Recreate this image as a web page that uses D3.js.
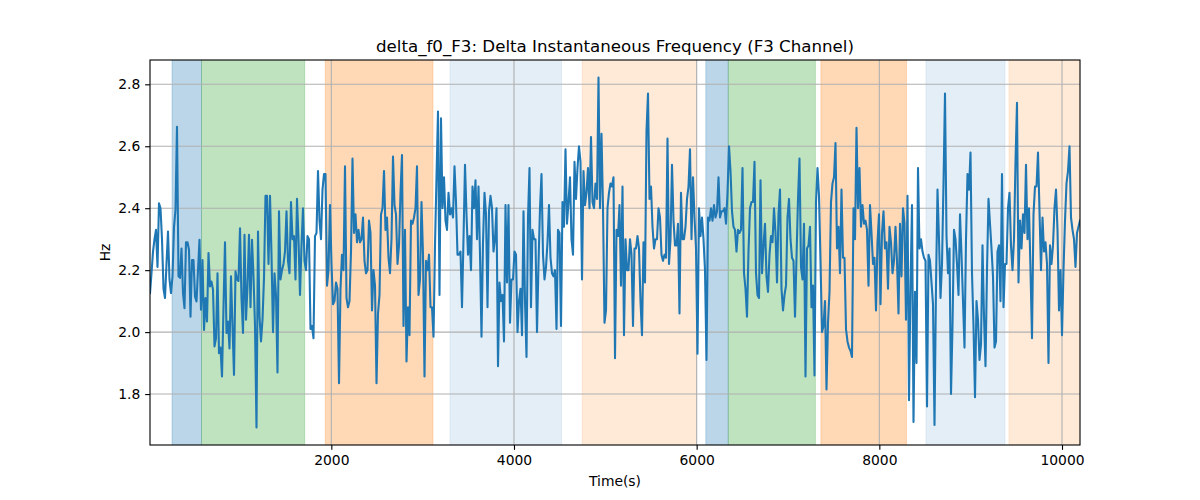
<!DOCTYPE html>
<html>
<head>
<meta charset="utf-8">
<script src="https://cdn.jsdelivr.net/npm/d3@7"></script>
<style>
  html, body { margin: 0; padding: 0; background: #ffffff; }
  svg { display: block; font-family: "DejaVu Sans", sans-serif; }
</style>
</head>
<body>
<svg id="chart" width="1200" height="500"></svg>
<script>
// ---------------- data ----------------
const chartTitle = "delta_f0_F3: Delta Instantaneous Frequency (F3 Channel)";
const xLabel = "Time(s)";
const yLabel = "Hz";
const xTicks = [2000, 4000, 6000, 8000, 10000];
const yTicks = [1.8, 2.0, 2.2, 2.4, 2.6, 2.8];
const timeStart = 15;
const timeEnd = 10197;

const values = [
  2.126,2.19,2.26,2.30,2.33,2.21,2.416,2.40,2.30,2.14,
  2.11,2.22,2.325,2.17,2.126,2.18,2.34,2.395,2.663,2.18,
  2.175,2.27,2.126,2.077,2.29,2.29,2.266,2.05,2.233,2.233,
  2.115,2.099,2.20,2.298,2.072,2.233,2.007,2.11,2.034,2.255,
  2.147,2.163,2.137,1.954,1.98,2.19,1.932,1.95,1.857,2.08,
  2.29,1.997,2.034,1.947,2.18,2.02,1.862,2.196,2.17,2.165,
  2.335,2.11,1.997,2.314,2.04,2.147,2.314,2.08,2.298,2.18,
  2.02,1.692,2.325,2.05,1.97,2.04,2.175,
  2.44,2.44,2.22,2.44,2.25,2.00,2.19,2.12,1.87,2.39,
  2.17,2.20,2.22,2.26,2.39,2.23,2.19,2.42,2.30,2.31,
  2.17,2.43,2.30,2.12,2.28,2.40,2.23,2.20,2.31,2.30,
  2.01,2.02,1.98,2.31,2.32,2.52,2.36,2.30,2.46,2.51,
  2.51,2.15,2.20,2.41,2.22,2.09,2.10,2.16,2.14,1.835,
  2.14,2.25,2.20,2.535,2.11,2.08,2.10,2.26,2.56,2.32,
  2.38,2.29,2.33,2.29,2.30,2.37,2.23,2.19,2.20,2.36,
  2.32,2.07,2.20,2.15,1.835,2.06,2.12,
  2.38,2.40,2.52,2.33,2.37,2.24,2.19,2.30,2.567,2.41,
  2.38,2.22,2.28,2.45,2.572,2.02,2.33,1.905,2.08,1.99,
  2.36,2.35,2.37,2.40,2.535,2.12,2.17,2.42,2.25,1.857,
  2.23,2.20,2.25,2.08,2.08,1.985,2.28,2.50,2.712,2.12,
  2.69,2.40,2.50,2.36,2.33,2.45,2.38,2.40,2.37,2.535,
  2.42,2.25,2.25,2.26,2.08,2.30,2.54,2.38,2.25,2.31,
  2.20,2.47,2.40,2.49,2.30,2.47,2.25,1.985,2.29,2.45,
  2.38,2.08,2.39,2.44,2.40,2.26,2.30,
  2.40,1.89,2.16,2.10,2.12,1.97,2.41,2.16,2.41,2.03,
  2.17,2.17,2.26,2.25,2.00,2.10,2.14,1.99,2.39,2.10,
  1.92,2.37,2.53,2.08,2.33,2.30,2.30,2.00,2.22,2.40,
  2.51,2.25,2.17,2.21,2.29,2.41,2.24,2.19,2.18,2.20,
  2.01,2.33,2.32,2.02,2.42,2.34,2.59,2.35,2.42,2.50,
  2.30,2.25,2.55,2.43,2.53,2.60,2.55,2.17,2.52,2.41,
  2.45,2.53,2.40,2.63,2.42,2.40,2.48,2.43,2.822,2.40,
  2.64,2.40,2.03,2.07,2.40,2.45,2.48,
  2.47,2.50,1.916,2.33,2.31,2.41,2.15,2.47,1.99,2.30,
  2.20,2.20,2.30,2.25,2.02,2.27,2.27,2.31,2.27,2.10,
  1.99,2.29,2.16,2.65,2.77,2.43,2.47,2.34,2.27,2.30,
  2.30,2.40,2.37,2.25,2.23,2.25,2.24,2.625,2.22,2.30,
  2.54,2.36,2.28,2.28,2.35,2.06,2.45,2.30,2.30,2.34,
  2.43,2.47,2.59,2.30,2.50,2.37,2.27,1.93,2.40,2.31,
  2.37,2.30,2.20,1.91,2.37,2.36,2.40,2.36,2.41,2.37,
  2.39,2.50,2.37,2.39,2.39,2.40,2.35,
  2.45,2.60,2.52,2.39,2.34,2.33,2.26,2.33,2.32,2.33,
  2.53,2.19,2.14,2.05,2.26,2.40,2.42,2.42,2.55,2.19,
  2.12,2.11,2.49,2.19,2.28,2.35,2.18,2.13,2.25,2.31,
  2.29,2.40,2.32,2.16,2.38,2.46,2.14,2.07,2.12,2.15,
  2.37,2.43,2.30,2.24,2.23,2.05,2.24,2.43,2.56,2.21,
  2.17,2.35,1.857,2.27,2.28,2.34,2.08,2.15,1.86,2.42,
  2.53,2.44,2.23,2.00,2.02,2.10,1.815,2.03,2.13,2.42,
  2.48,2.50,2.61,2.27,2.34,2.19,2.46,
  2.24,2.24,2.01,1.97,1.95,1.94,1.92,2.40,2.30,2.66,
  2.40,2.53,2.34,2.41,2.35,2.36,2.33,2.15,2.41,2.32,
  2.22,2.24,2.07,2.29,2.38,2.09,2.32,2.39,2.27,2.29,
  2.14,2.34,2.29,2.19,2.23,2.34,2.23,2.06,2.35,2.18,
  2.40,2.35,2.04,2.44,1.78,2.15,2.41,1.71,2.13,1.90,
  2.53,2.27,2.30,2.26,2.24,2.23,1.76,2.25,2.23,2.16,
  2.09,1.70,2.15,2.46,2.30,2.11,2.22,2.48,2.77,2.31,
  2.19,2.27,1.80,2.02,2.33,2.30,2.22,
  2.12,2.38,2.25,2.10,1.95,2.30,2.51,2.46,2.58,2.19,
  2.02,1.79,2.10,2.04,1.91,1.96,2.28,2.05,1.89,2.20,
  2.43,2.35,2.27,2.18,1.95,1.97,2.26,2.28,2.10,2.51,
  2.08,2.22,2.22,2.40,2.45,2.28,2.20,2.30,2.55,2.74,
  2.16,2.36,2.27,2.38,2.32,2.54,2.30,2.40,2.20,1.98,
  2.38,2.47,2.47,2.58,2.39,2.20,2.37,2.26,2.29,2.22,
  1.90,2.28,2.22,2.28,2.40,2.46,2.33,2.07,2.20,1.99,
  2.20,2.36,2.48,2.52,2.60,2.37,2.33,2.30,2.21,2.32,
  2.34,2.36
];

const spanStarts = [256, 579, 1934, 3299, 4747, 6100, 6346, 7360, 8510, 9419];
const spanEnds   = [579, 1709, 3113, 4521, 5998, 6346, 7300, 8297, 9375, 10400];
const spanKinds  = ["blueStrong", "green", "orange", "blueLight", "orangeLight",
                    "blueStrong", "green", "orange", "blueLight", "orangeLight"];

// ---------------- styles ----------------
const spanStyle = {
  blueStrong:  { color: "#1f77b4", opacity: 0.3 },
  green:       { color: "#2ca02c", opacity: 0.3 },
  orange:      { color: "#ff7f0e", opacity: 0.3 },
  blueLight:   { color: "#1f77b4", opacity: 0.12 },
  orangeLight: { color: "#ff7f0e", opacity: 0.16 }
};

const W = 1200, H = 500;
const margin = { left: 150, right: 120, top: 60, bottom: 55 };
const plotW = W - margin.left - margin.right;
const plotH = H - margin.top - margin.bottom;
const pt = 100 / 72;

const n = values.length;
const times = d3.range(n).map(i => timeStart + i * (timeEnd - timeStart) / (n - 1));
const points = times.map((t, i) => ({ t, v: values[i] }));

const [vMin, vMax] = d3.extent(values);
const pad = (vMax - vMin) * 0.05;

const x = d3.scaleLinear().domain([timeStart, timeEnd]).range([0, plotW]);
const y = d3.scaleLinear().domain([vMin - pad, vMax + pad]).range([plotH, 0]);

const svg = d3.select("#chart");
svg.append("rect").attr("width", W).attr("height", H).attr("fill", "#ffffff");

const g = svg.append("g").attr("transform", `translate(${margin.left},${margin.top})`);

svg.append("defs").append("clipPath").attr("id", "clip")
  .append("rect").attr("width", plotW).attr("height", plotH);

const plot = g.append("g").attr("clip-path", "url(#clip)");

// spans
plot.selectAll("rect.span")
  .data(spanStarts.map((s, i) => ({ s, e: spanEnds[i], k: spanKinds[i] })))
  .join("rect")
  .attr("class", "span")
  .attr("x", d => x(d.s))
  .attr("width", d => x(d.e) - x(d.s))
  .attr("y", -2)
  .attr("height", plotH + 4)
  .attr("fill", d => spanStyle[d.k].color)
  .attr("fill-opacity", d => spanStyle[d.k].opacity)
  .attr("stroke", d => spanStyle[d.k].color)
  .attr("stroke-opacity", d => spanStyle[d.k].opacity * 0.8)
  .attr("stroke-width", 1);

// grid
const gridColor = "#b0b0b0";
plot.selectAll("line.gx").data(xTicks).join("line")
  .attr("x1", d => x(d)).attr("x2", d => x(d))
  .attr("y1", 0).attr("y2", plotH)
  .attr("stroke", gridColor).attr("stroke-width", 0.8 * pt);
plot.selectAll("line.gy").data(yTicks).join("line")
  .attr("y1", d => y(d)).attr("y2", d => y(d))
  .attr("x1", 0).attr("x2", plotW)
  .attr("stroke", gridColor).attr("stroke-width", 0.8 * pt);

// line
const line = d3.line().x(d => x(d.t)).y(d => y(d.v));
plot.append("path")
  .datum(points)
  .attr("d", line)
  .attr("fill", "none")
  .attr("stroke", "#1f77b4")
  .attr("stroke-width", 1.5 * pt)
  .attr("stroke-linejoin", "round")
  .attr("stroke-linecap", "square");

// axes
const tickFont = 10 * pt;
const xAxis = d3.axisBottom(x).tickValues(xTicks).tickFormat(d3.format("d"))
  .tickSizeInner(3.5 * pt).tickSizeOuter(0).tickPadding(3.5 * pt);
const yAxis = d3.axisLeft(y).tickValues(yTicks).tickFormat(d3.format(".1f"))
  .tickSizeInner(3.5 * pt).tickSizeOuter(0).tickPadding(3.5 * pt);

const gx = g.append("g").attr("transform", `translate(0,${plotH})`).call(xAxis);
const gy = g.append("g").call(yAxis);
[gx, gy].forEach(a => {
  a.select(".domain").remove();
  a.selectAll(".tick line").attr("stroke", "#000").attr("stroke-width", 0.8 * pt);
  a.selectAll(".tick text")
    .attr("fill", "#000")
    .style("font-family", "DejaVu Sans, sans-serif")
    .style("font-size", tickFont + "px");
});

// spines
g.append("rect")
  .attr("x", 0).attr("y", 0).attr("width", plotW).attr("height", plotH)
  .attr("fill", "none").attr("stroke", "#000").attr("stroke-width", 0.8 * pt);

// title & labels
svg.append("text")
  .attr("x", margin.left + plotW / 2).attr("y", 52)
  .attr("text-anchor", "middle")
  .style("font-size", (12 * pt) + "px")
  .attr("fill", "#000")
  .text(chartTitle);

svg.append("text")
  .attr("x", margin.left + plotW / 2).attr("y", 486)
  .attr("text-anchor", "middle")
  .style("font-size", tickFont + "px")
  .attr("fill", "#000")
  .text(xLabel);

svg.append("text")
  .attr("transform", `translate(110,${margin.top + plotH / 2}) rotate(-90)`)
  .attr("text-anchor", "middle")
  .style("font-size", tickFont + "px")
  .attr("fill", "#000")
  .text(yLabel);
</script>
</body>
</html>
